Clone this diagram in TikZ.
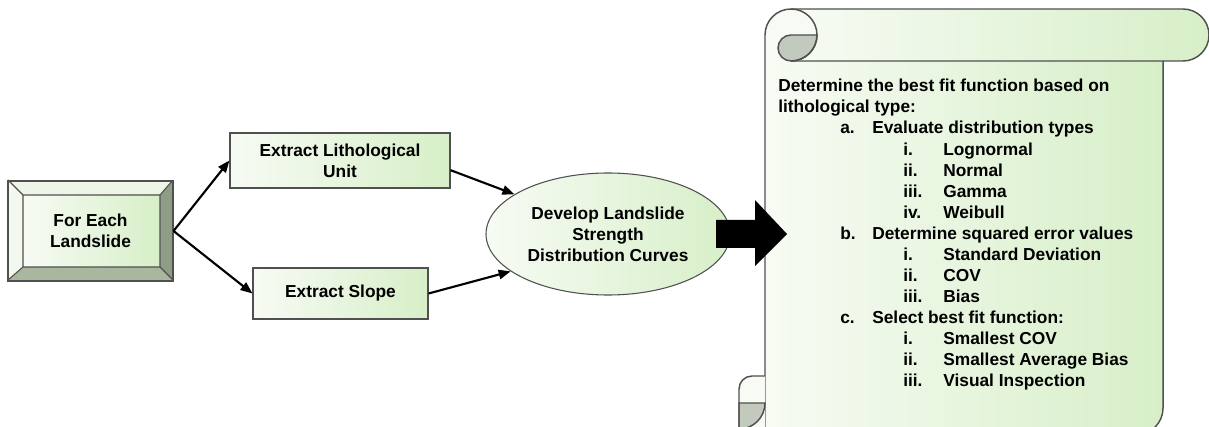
\documentclass[tikz,border=0pt]{standalone}
\usepackage{fontspec}
\setmainfont{Liberation Sans}
\usetikzlibrary{arrows.meta,positioning,shapes.geometric}
\definecolor{boxlight}{HTML}{F7FBF4}
\definecolor{boxgreen}{HTML}{D7EFC8}
\definecolor{edgegray}{HTML}{505050}
\definecolor{rollgray}{HTML}{C2C9BD}
\definecolor{bevtop}{HTML}{EEF5E8}
\definecolor{bevleft}{HTML}{F3F9EF}
\definecolor{bevright}{HTML}{8E9D85}
\definecolor{bevbottom}{HTML}{A9B79F}
\newcommand{\lvlone}[2]{\hspace*{46.5pt}\makebox[24pt][l]{#1}#2}
\newcommand{\lvltwo}[2]{\hspace*{93.75pt}\makebox[30pt][l]{#1}#2}

\begin{document}
\begin{tikzpicture}[x=0.75pt,y=-0.75pt,
    font=\fontsize{13}{15.8}\selectfont\bfseries,
    box/.style={draw=edgegray,line width=0.8pt,left color=boxlight,right color=boxgreen,align=center,inner sep=0pt},
    scrollline/.style={draw=edgegray,line width=1.1pt},
    link/.style={line width=1.6pt,-{Triangle[length=9pt,width=7pt]}}]
    \path[use as bounding box,clip] (0,0) rectangle (1209,427);

    \fill[bevtop] (8,180) -- (173,180) -- (160,195) -- (23,195) -- cycle;
    \fill[bevleft] (8,180) -- (23,195) -- (23,267) -- (8,280) -- cycle;
    \fill[bevright] (173,180) -- (173,280) -- (160,267) -- (160,195) -- cycle;
    \fill[bevbottom] (8,280) -- (173,280) -- (160,267) -- (23,267) -- cycle;
    \shade[left color=boxlight,right color=boxgreen] (23,195) rectangle (160,267);
    \draw[edgegray,line width=0.8pt] (8,180) -- (23,195) (173,180) -- (160,195) (8,280) -- (23,267) (173,280) -- (160,267) (23,195) rectangle (160,267);
    \node[draw=edgegray,line width=0.8pt,minimum width=123.75pt,minimum height=75pt,inner sep=0pt,align=center] (each) at (90.5,231) {For Each\\Landslide};

    \node[box,minimum width=165pt,minimum height=41.25pt] (litho) at (340,160.5) {Extract Lithological\\Unit};
    \node[box,minimum width=131.25pt,minimum height=38.25pt] (slope) at (340.5,293.5) {Extract Slope};
    \node[box,ellipse,minimum width=183pt,minimum height=91.5pt] (curves) at (608,234) {Develop Landslide\\Strength\\Distribution Curves};

    \draw[link] (each.east) -- (litho.west);
    \draw[link] (each.east) -- (slope.west);
    \draw[link] (litho.-5) -- (curves.157);
    \draw[link] (slope.east) -- (curves.201);

    \shade[left color=boxlight,right color=boxgreen] (765,35) -- (1163,35) -- (1163,408) arc[start angle=0,end angle=90,radius=27] -- (765,435) -- cycle;
    \shade[left color=boxlight,right color=boxgreen] (791,9) -- (1183,9) arc[start angle=-90,end angle=90,radius=26] -- (791,61) -- cycle;
    \fill[boxlight] (791,35) circle[radius=26];
    \filldraw[fill=rollgray,scrollline] (791,35) -- (817,35) arc[start angle=0,end angle=90,radius=26] arc[start angle=90,end angle=270,radius=13] -- cycle;
    \draw[scrollline] (765,435) -- (765,35) arc[start angle=180,end angle=360,radius=26] arc[start angle=0,end angle=90,radius=26];
    \draw[scrollline] (791,9) -- (1183,9) arc[start angle=-90,end angle=90,radius=26] -- (791,61);
    \draw[scrollline] (1163,61) -- (1163,408) arc[start angle=0,end angle=90,radius=27] -- (765,435);
    \fill[boxlight] (765,376) -- (752,376) arc[start angle=-90,end angle=-180,radius=13] -- (739,435) -- (765,435) -- cycle;
    \filldraw[fill=rollgray,scrollline] (739,403) -- (765,403) arc[start angle=0,end angle=90,radius=26] -- cycle;
    \draw[scrollline] (765,376) -- (752,376) arc[start angle=-90,end angle=-180,radius=13] -- (739,435);

    \fill (716,220) -- (755,220) -- (755,200) -- (787,234) -- (755,266) -- (755,248) -- (716,248) -- cycle;

    \node[anchor=north west,align=left,inner sep=0pt] (steps) at (778,79) {Determine the best fit function based on\\
        lithological type:\\
        \lvlone{a.}{Evaluate distribution types}\\
        \lvltwo{i.}{Lognormal}\\
        \lvltwo{ii.}{Normal}\\
        \lvltwo{iii.}{Gamma}\\
        \lvltwo{iv.}{Weibull}\\
        \lvlone{b.}{Determine squared error values}\\
        \lvltwo{i.}{Standard Deviation}\\
        \lvltwo{ii.}{COV}\\
        \lvltwo{iii.}{Bias}\\
        \lvlone{c.}{Select best fit function:}\\
        \lvltwo{i.}{Smallest COV}\\
        \lvltwo{ii.}{Smallest Average Bias}\\
        \lvltwo{iii.}{Visual Inspection}};
\end{tikzpicture}
\end{document}
